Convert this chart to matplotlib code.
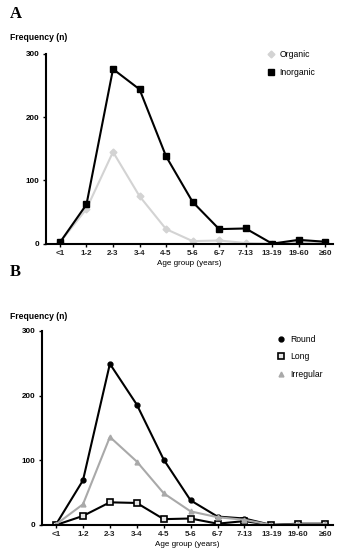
import matplotlib.pyplot as plt
import numpy as np

# age groups on the x axis
age_groups = ['<1', '1-2', '2-3', '3-4', '4-5', '5-6', '6-7', '7-13', '13-19', '19-60', '≥60']

# panel A: composition
organic = [2, 55, 145, 75, 23, 4, 5, 1, 0, 3, 1]
inorganic = [2, 62, 276, 244, 138, 66, 23, 24, 0, 6, 3]

# panel B: shape
round_ = [1, 69, 249, 186, 101, 38, 13, 10, 0, 1, 1]
long_ = [0, 14, 35, 34, 9, 10, 2, 6, 0, 2, 2]
irregular = [1, 32, 136, 98, 49, 21, 12, 8, 0, 1, 1]

y_ticks = [0, 100, 200, 300]

plt.rcParams['font.family'] = ['Liberation Sans', 'DejaVu Sans']

fig = plt.figure(figsize=(3.4, 5.5), dpi=100)
x = np.arange(len(age_groups))


def style_axes(ax, anchor):
    ax.set_xlim(-0.53, 10.3)
    ax.set_ylim(0, 300)
    ax.spines['top'].set_visible(False)
    ax.spines['right'].set_visible(False)
    ax.spines['left'].set_linewidth(1.5)
    ax.spines['bottom'].set_linewidth(1.5)
    ax.set_xticks(x)
    ax.set_xticklabels(age_groups, fontsize=5.8, fontweight='bold', color='#222222')
    ax.set_yticks(y_ticks)
    ax.set_yticklabels([str(t) for t in y_ticks], fontsize=5.8, fontweight='bold')
    ax.tick_params(axis='both', length=2.5, width=1, pad=2)
    ax.set_xlabel('Age group (years)', fontsize=5.8, labelpad=2)
    leg = ax.legend(loc='upper right', frameon=False, fontsize=6.2, handlelength=1,
                    handletextpad=0.5, labelspacing=1.0, bbox_to_anchor=anchor)
    # legend shows markers only
    for h in leg.legend_handles:
        h.set_linestyle('none')


# panel A
ax1 = fig.add_axes([0.135, 0.557, 0.845, 0.345])
ax1.plot(x, organic, color='#d3d3d3', lw=1.5, marker='D', ms=3.5, label='Organic')
ax1.plot(x, inorganic, color='black', lw=1.5, marker='s', ms=4.5, label='Inorganic')
style_axes(ax1, (0.965, 1.06))

# panel B
ax2 = fig.add_axes([0.123, 0.0455, 0.857, 0.353])
ax2.plot(x, round_, color='black', lw=1.5, marker='o', ms=3.5, label='Round')
ax2.plot(x, long_, color='black', lw=1.5, marker='s', ms=5, mfc='#e6e6e6',
         mec='black', mew=1.2, label='Long')
ax2.plot(x, irregular, color='#a9a9a9', lw=1.5, marker='^', ms=3.5, label='Irregular')
style_axes(ax2, (0.99, 1.02))

# panel letters and y titles
fig.text(0.03, 0.99, 'A', fontsize=12, fontweight='bold', family='Liberation Serif', va='top')
fig.text(0.03, 0.52, 'B', fontsize=12, fontweight='bold', family='Liberation Serif', va='top')
fig.text(0.03, 0.932, 'Frequency (n)', fontsize=6.2, fontweight='bold', va='center')
fig.text(0.03, 0.425, 'Frequency (n)', fontsize=6.2, fontweight='bold', va='center')

fig.savefig('out.png', dpi=100)
